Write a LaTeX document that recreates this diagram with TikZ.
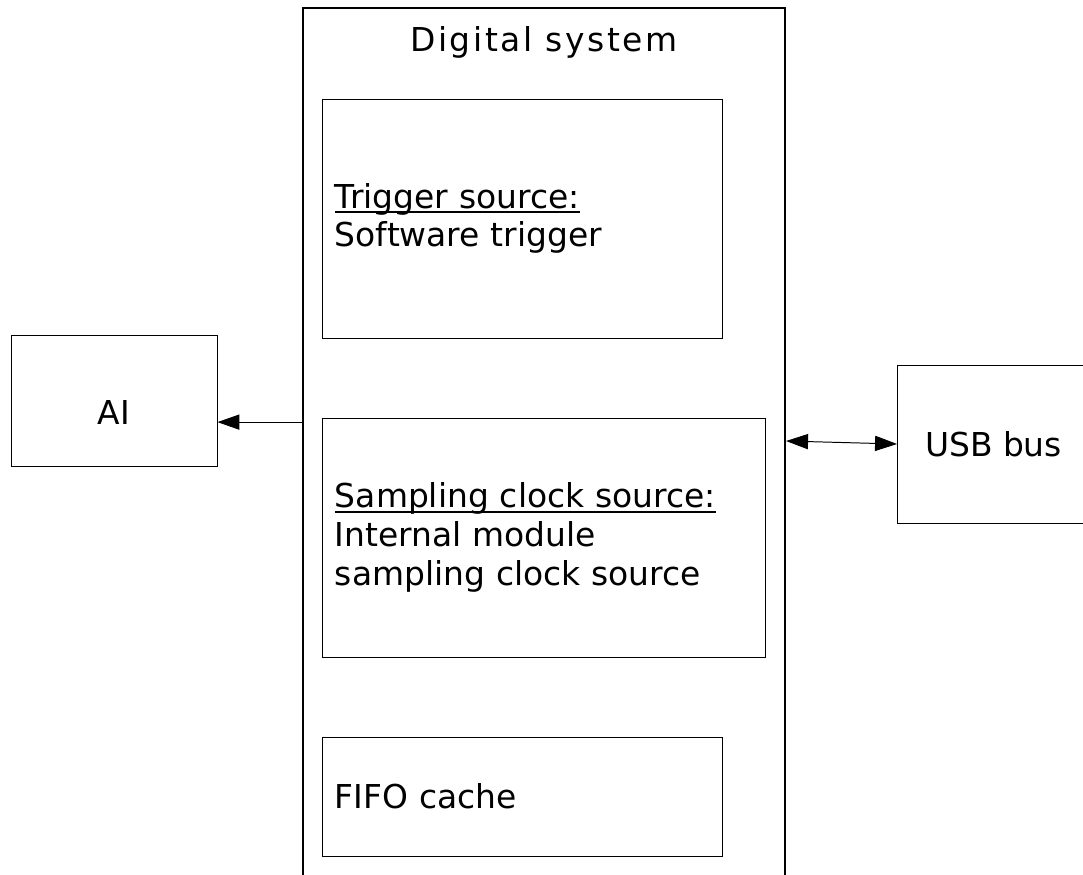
\documentclass[tikz,border=0pt]{standalone}
\usepackage{fontspec}
\setmainfont{DejaVu Sans}
\usetikzlibrary{arrows.meta}
\newfontfamily\titlefont[LetterSpace=8]{DejaVu Sans}
\newcommand{\ulbox}[1]{\setbox0\hbox{#1}\rlap{\rule[-3.5pt]{\wd0}{1.3pt}}\box0}

\begin{document}
\begin{tikzpicture}[x=0.025cm,y=-0.025cm,
  txt/.style={font=\fontsize{23.4}{27.5}\selectfont},
  block/.style={draw,line width=0.6pt,inner sep=0pt,txt},
  leftblock/.style={block,align=left,inner xsep=0.325cm,text width=#1},
  conn/.style={line width=0.7pt,-{Triangle[length=0.55cm,width=0.38cm]}},
  biconn/.style={line width=0.7pt,{Triangle[length=0.55cm,width=0.38cm]}-{Triangle[length=0.55cm,width=0.38cm]}}]
\useasboundingbox (0,0) rectangle (1083,874);
% DIGITAL SYSTEM FRAME
\node [draw,line width=1.4pt,minimum width=12.05cm,minimum height=22.3cm,inner sep=0pt] (digsys) at (544,454) {};
\node [anchor=base,font=\titlefont\fontsize{23.4}{27.5}\selectfont] (title) at ([yshift=-1.125cm]digsys.north) {Digital system};
% INNER BLOCKS
\node [leftblock=9.35cm,minimum height=5.975cm] (trigger) at (522,218.5)
  {\ulbox{Trigger source:}\\Software trigger};
\node [leftblock=10.425cm,minimum height=5.975cm] (sampling) at (543.5,537.5)
  {\ulbox{Sampling clock source:}\\Internal module\\sampling clock source};
\node [leftblock=9.35cm,minimum height=2.975cm] (fifo) at (522,796.5) {FIFO cache};
% OUTER BLOCKS
\node [block,minimum width=5.15cm,minimum height=3.275cm,
  label={[txt,yshift=-0.3cm]center:AI}] (ai) at (114,400.5) {};
\node [block,minimum width=4.8cm,minimum height=3.95cm] (usb) at (993.5,444) {USB bus};
% CONNECTORS
\coordinate (aiport) at ([yshift=-0.54cm]ai.east);
\coordinate (sysport) at ([yshift=0.075cm]usb.west -| digsys.east);
\draw [conn] (digsys.west |- aiport) -- (aiport);
\draw [biconn] (sysport) -- (usb.west);
\end{tikzpicture}
\end{document}
